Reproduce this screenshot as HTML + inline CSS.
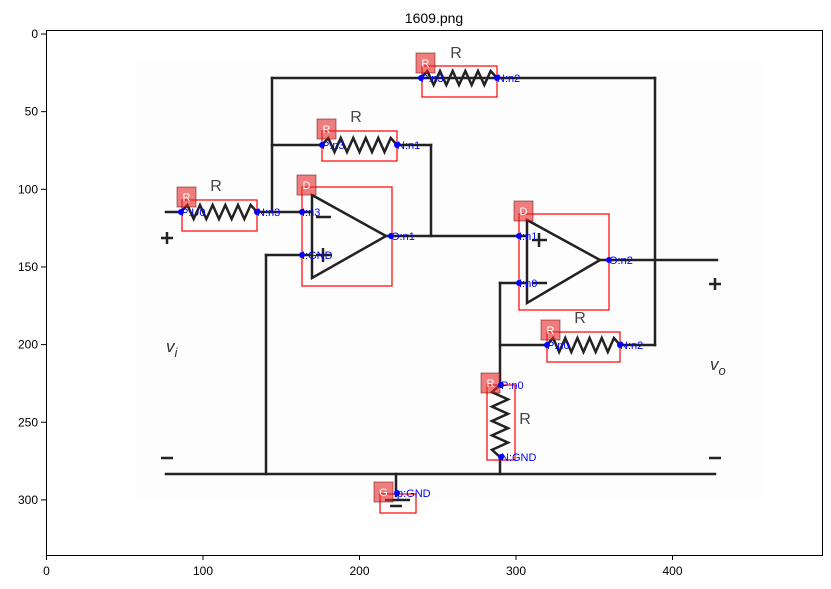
<!DOCTYPE html>
<html><head><meta charset="utf-8"><style>
body{margin:0;background:#fff;}
svg{display:block;font-family:"Liberation Sans","DejaVu Sans",sans-serif;}
</style></head><body>
<svg id="chart" width="831" height="589" viewBox="0 0 831 589">
<text x="434" y="23" font-size="14" text-anchor="middle">1609.png</text>
<g id="img"></g>
<g id="ann"></g>
<rect x="46.5" y="30.5" width="776" height="525" fill="none" stroke="#000" stroke-width="1"/>
<g id="ticks"></g>
</svg>
<script>
const xTicks=[0,100,200,300,400];
const yTicks=[0,50,100,150,200,250,300];
const wires=[[272,78,655,78],[655,78,655,345],[272,78,272,212],[272,145,322,145],[397,145,431,145],[431,145,431,236],[166,212,181,212],[257,212,312,212],[266,255,312,255],[266,255,266,474],[386,236,527,236],[600,260,717,260],[500,283,527,283],[500,283,500,385],[500,345,547,345],[620,345,655,345],[500,457,500,474],[166,474,715,474],[396,474,396,496]];
const resH=[[421,497,78],[322,397,145],[181,257,212],[547,620,345]];
const resV=[[500,385,457]];
const boxes=[[422,66,75,31],[322,131,75,30],[182,200,75,31],[302,187,90,99],[519,214,90,96],[547,332,73,30],[487,385,28,75],[380,494,36,19]];
const tags=[["R",416,53],["R",317,119],["R",177,187],["D",297,175],["D",514,201],["R",541,320],["R",481,373],["G",374,482]];
const pins=[[421,78,"P:n3"],[497,78,"N:n2"],[322,145,"P:n3"],[397,145,"N:n1"],[181,212,"P:U0"],[257,212,"N:n3"],[302,212,"I:n3"],[302,255,"I:GND"],[391,236,"O:n1"],[519,236,"I:n1"],[519,283,"I:n0"],[609,260,"O:n2"],[547,345,"P:n0"],[620,345,"N:n2"],[501,385,"P:n0"],[501,457,"N:GND"],[397,493,"p:GND"]];
const rLabels=[[456,58],[356,122],[216,191],[580,323],[525,424]];
const NS="http://www.w3.org/2000/svg";
const img=document.getElementById('img'),ann=document.getElementById('ann'),tk=document.getElementById('ticks');
function mk(p,tag,at){const e=document.createElementNS(NS,tag);for(const k in at)e.setAttribute(k,at[k]);p.appendChild(e);return e;}
const bg=mk(img,'rect',{x:134,y:60,width:630,height:440,fill:'#fdfdfd'});


wires.forEach(w=>{const l=mk(img,'line',{x1:w[0],y1:w[1],x2:w[2],y2:w[3],stroke:'#222','stroke-width':2.5,'stroke-linecap':'square'});

});
resH.forEach(r=>{let d=`M${r[0]} ${r[2]}`;const n=12,s=(r[1]-r[0])/n;for(let i=1;i<n;i++)d+=` L${r[0]+s*i} ${r[2]+(i%2?-7:7)}`;d+=` L${r[1]} ${r[2]}`;
const p=mk(img,'path',{d:d,fill:'none',stroke:'#222','stroke-width':2.5});

});
resV.forEach(r=>{let d=`M${r[0]} ${r[1]}`;const n=10,s=(r[2]-r[1])/n;for(let i=1;i<n;i++)d+=` L${r[0]+(i%2?-8:8)} ${r[1]+s*i}`;d+=` L${r[0]} ${r[2]}`;
const p=mk(img,'path',{d:d,fill:'none',stroke:'#222','stroke-width':2.5});

});
[[312,195,278,386,236],[527,220,303,600,260]].forEach(o=>{const p=mk(img,'path',{d:`M${o[0]} ${o[1]} L${o[3]} ${o[4]} L${o[0]} ${o[2]} Z`,fill:'none',stroke:'#222','stroke-width':2.5});

});
[[316,217,331,217],[316,255,331,255],[323,248,323,262],[532,240,547,240],[539,233,539,247],[532,283,547,283],[385,500,410,500],[390,506,402,506],[161,238,173,238],[167,232,167,244],[161,458,173,458],[709,284,721,284],[715,278,715,290],[709,458,721,458]].forEach(s=>{const l=mk(img,'line',{x1:s[0],y1:s[1],x2:s[2],y2:s[3],stroke:'#222','stroke-width':2.5});

});
rLabels.forEach(r=>{const t=mk(img,'text',{x:r[0],y:r[1],'font-size':16,fill:'#444','text-anchor':'middle'});t.textContent='R';

});
[["v",166,352,"i"],["v",710,370,"o"]].forEach(v=>{const t=mk(img,'text',{x:v[1],y:v[2],'font-size':17,'font-style':'italic',fill:'#333'});t.textContent=v[0];
const s=mk(t,'tspan',{dy:5,'font-size':13});s.textContent=v[3];

});
boxes.forEach(b=>{const r=mk(ann,'rect',{x:b[0],y:b[1],width:b[2],height:b[3],fill:'none',stroke:'red','stroke-width':1.2});

});
tags.forEach(t=>{const r=mk(ann,'rect',{x:t[1],y:t[2],width:19,height:20,fill:'rgba(230,40,40,0.6)',stroke:'rgba(100,0,0,0.5)'});


const x=mk(ann,'text',{x:t[1]+9.5,y:t[2]+14,'font-size':11,fill:'#fff','text-anchor':'middle'});x.textContent=t[0];

});
pins.forEach(p=>{const c=mk(ann,'circle',{cx:p[0],cy:p[1],r:3,fill:'blue'});


const t=mk(ann,'text',{x:p[0],y:p[1]+4,'font-size':11,fill:'blue'});t.textContent=p[2];

});
const xs=v=>46.5+v*1.565, ys=v=>34+v*1.553;
xTicks.forEach(v=>{const l=mk(tk,'line',{x1:xs(v),y1:555,x2:xs(v),y2:560,stroke:'#000'});


const t=mk(tk,'text',{x:xs(v),y:575,'font-size':12,'text-anchor':'middle'});t.textContent=v;

});
yTicks.forEach(v=>{const l=mk(tk,'line',{x1:41,y1:ys(v),x2:46,y2:ys(v),stroke:'#000'});


const t=mk(tk,'text',{x:38,y:ys(v)+4,'font-size':12,'text-anchor':'end'});t.textContent=v;

});
</script>
</body></html>
